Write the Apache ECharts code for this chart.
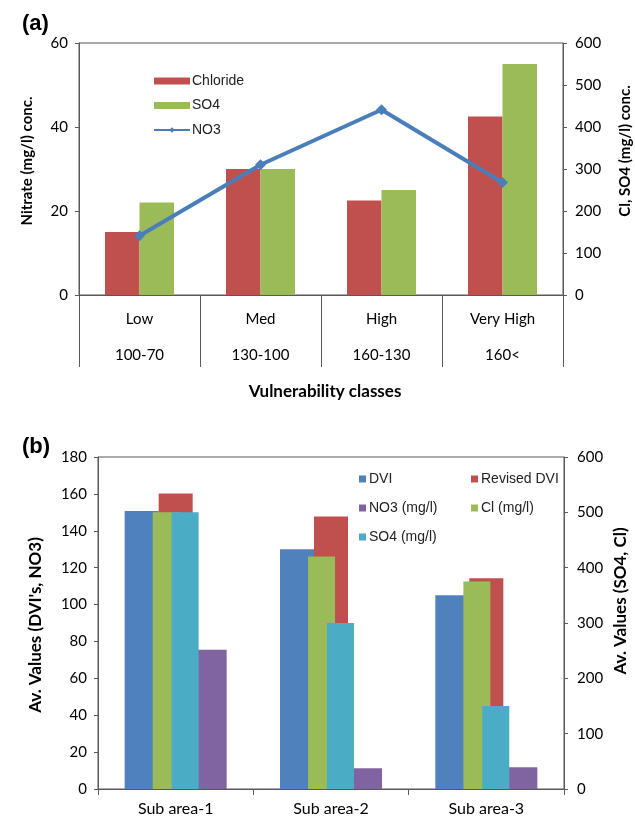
<!DOCTYPE html>
<html><head><meta charset="utf-8">
<script src="https://cdn.jsdelivr.net/npm/echarts@6/dist/echarts.min.js"></script>
<style>html,body{margin:0;padding:0;background:#fff}#c{width:635px;height:819px}</style>
</head><body><div id="c"></div>
<script>
// Panel (a)
const vulnClasses = ['Low', 'Med', 'High', 'Very High'];
const vulnRanges = ['100-70', '130-100', '160-130', '160<'];
const chlorideA = [150, 300, 225, 425];
const so4A = [220, 300, 250, 550];
const no3A = [14.1, 31.0, 44.1, 26.8];
// Panel (b)
const subAreas = ['Sub area-1', 'Sub area-2', 'Sub area-3'];
const dviB = [150.7, 130, 105];
const revisedDviB = [160.2, 147.8, 114.2];
const no3B = [75.5, 11.2, 11.8];
const clB = [500, 420, 375];
const so4B = [500, 300, 150];

const C = {blue:'#4F81BD', red:'#C0504D', green:'#9BBB59', purple:'#8064A2', cyan:'#4BACC6', axis:'#595959'};
const tickFont = {fontFamily:'Lato', fontSize:15, color:'#000'};

function valAxis(grid, min, max, interval, pos, margin) {
  return {type:'value', gridIndex:grid, min:min, max:max, interval:interval, position:pos,
    axisLine:{show:true, lineStyle:{color:C.axis}}, axisTick:{show:true, length:4, lineStyle:{color:C.axis}},
    splitLine:{show:false}, axisLabel:Object.assign({margin:margin}, tickFont)};
}

const chart = echarts.init(document.getElementById('c'), null, {renderer:'canvas'});
chart.setOption({
  animation:false,
  backgroundColor:'#fff',
  grid:[
    {left:79, right:72, top:43, height:252, show:true, borderColor:C.axis, borderWidth:1},
    {left:98, right:71, top:457, height:332, show:true, borderColor:C.axis, borderWidth:1}
  ],
  xAxis:[
    {type:'category', gridIndex:0, data:vulnClasses, boundaryGap:true,
     axisLine:{lineStyle:{color:C.axis}},
     axisTick:{show:true, length:72, interval:0, lineStyle:{color:C.axis}},
     axisLabel:Object.assign({interval:0, margin:6, lineHeight:36,
       formatter:function(v, i){ return v + '\n' + vulnRanges[i]; }}, tickFont)},
    {type:'category', gridIndex:1, data:subAreas, boundaryGap:true,
     axisLine:{lineStyle:{color:C.axis}},
     axisTick:{show:true, length:6, interval:0, lineStyle:{color:C.axis}},
     axisLabel:Object.assign({interval:0, margin:12}, tickFont, {fontSize:16})},
    {type:'category', gridIndex:1, data:subAreas, boundaryGap:true, show:false}
  ],
  yAxis:[
    valAxis(0, 0, 60, 20, 'left', 11),
    valAxis(0, 0, 600, 100, 'right', 12),
    valAxis(1, 0, 180, 20, 'left', 11),
    valAxis(1, 0, 600, 100, 'right', 13)
  ],
  legend:[
    {data:[{name:'Chloride', icon:'rect'},{name:'SO4', icon:'rect'},'NO3'], orient:'vertical', left:148, top:69,
     itemWidth:36, itemHeight:7, itemGap:10.5, selectedMode:false,
     textStyle:{fontFamily:'Liberation Sans', fontSize:14, color:'#222', padding:[0,0,0,-3]}},
    {data:['DVI','NO3 (mg/l)','SO4 (mg/l)'], orient:'vertical', left:354, top:467, itemWidth:7, itemHeight:7,
     itemGap:15, icon:'rect', selectedMode:false,
     textStyle:{fontFamily:'Liberation Sans', fontSize:14, color:'#222', padding:[0,0,0,-2]}},
    {data:['Revised DVI','Cl (mg/l)'], orient:'vertical', left:466, top:467, itemWidth:7, itemHeight:7,
     itemGap:15, icon:'rect', selectedMode:false,
     textStyle:{fontFamily:'Liberation Sans', fontSize:14, color:'#222', padding:[0,0,0,-2]}}
  ],
  series:[
    {name:'Chloride', type:'bar', xAxisIndex:0, yAxisIndex:1, data:chlorideA, barWidth:34.5, barGap:'0%',
     itemStyle:{color:C.red}},
    {name:'SO4', type:'bar', xAxisIndex:0, yAxisIndex:1, data:so4A, barWidth:34.5, barGap:'0%',
     itemStyle:{color:C.green}},
    {name:'NO3', type:'line', xAxisIndex:0, yAxisIndex:0, data:no3A, symbol:'diamond', symbolSize:11,
     lineStyle:{color:'#4A7EBB', width:4}, itemStyle:{color:'#4A7EBB'}},
    {name:'DVI', type:'bar', xAxisIndex:1, yAxisIndex:2, data:dviB, barWidth:34, barGap:'0%', itemStyle:{color:C.blue}},
    {name:'Revised DVI', type:'bar', xAxisIndex:1, yAxisIndex:2, data:revisedDviB, barWidth:34, barGap:'0%', itemStyle:{color:C.red}},
    {name:'NO3 (mg/l)', type:'bar', xAxisIndex:1, yAxisIndex:2, data:no3B, barWidth:34, barGap:'0%', itemStyle:{color:C.purple}},
    {name:'Cl (mg/l)', type:'bar', xAxisIndex:2, yAxisIndex:3, data:clB, barWidth:27, barGap:'-30%', itemStyle:{color:C.green}},
    {name:'SO4 (mg/l)', type:'bar', xAxisIndex:2, yAxisIndex:3, data:so4B, barWidth:27, barGap:'-30%', itemStyle:{color:C.cyan}}
  ],
  graphic:[
    {type:'text', x:22, y:24, style:{text:'(a)', font:'bold 22px "Liberation Sans"', fill:'#000', align:'left', verticalAlign:'middle'}},
    {type:'text', x:22, y:447, style:{text:'(b)', font:'bold 22px "Liberation Sans"', fill:'#000', align:'left', verticalAlign:'middle'}},
    {type:'text', x:27, y:161, rotation:Math.PI/2, style:{text:'Nitrate (mg/l) conc.', font:'bold 15px Lato', fill:'#000', align:'center', verticalAlign:'middle'}},
    {type:'text', x:625, y:151, rotation:Math.PI/2, style:{text:'Cl, SO4 (mg/l) conc.', font:'bold 15px Lato', fill:'#000', align:'center', verticalAlign:'middle'}},
    {type:'text', x:325, y:392, style:{text:'Vulnerability classes', font:'bold 17px Lato', fill:'#000', align:'center', verticalAlign:'middle'}},
    {type:'text', x:36, y:625, rotation:Math.PI/2, style:{text:"Av. Values (DVI's, NO3)", font:'bold 17px Lato', fill:'#000', align:'center', verticalAlign:'middle'}},
    {type:'text', x:621, y:601, rotation:Math.PI/2, style:{text:'Av. Values (SO4, Cl)', font:'bold 17px Lato', fill:'#000', align:'center', verticalAlign:'middle'}}
  ]
});
</script></body></html>
